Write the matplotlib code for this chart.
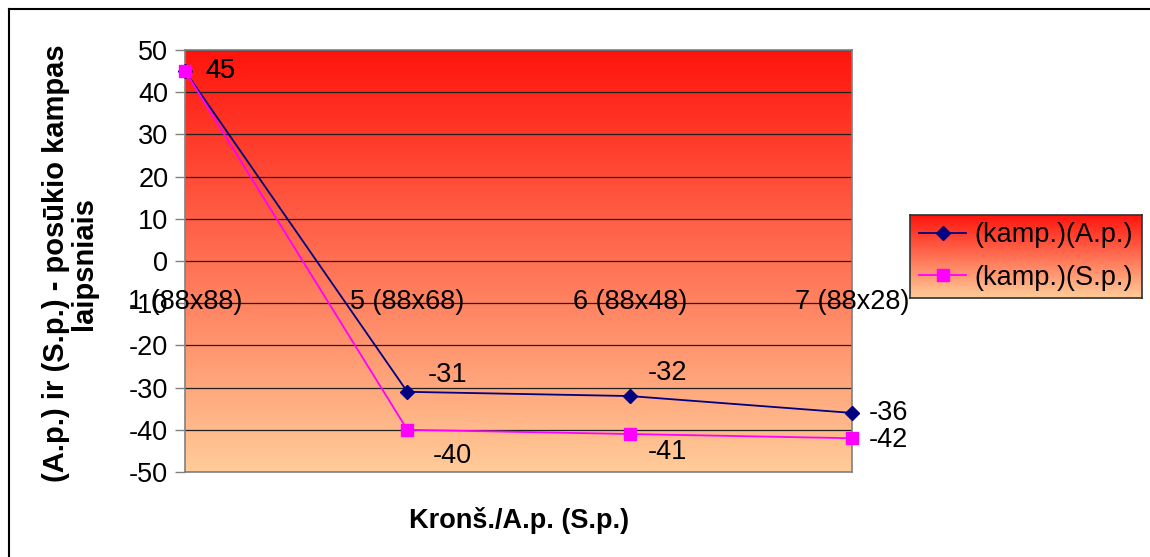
import numpy as np
import matplotlib
matplotlib.use("Agg")
import matplotlib.pyplot as plt
from matplotlib.colors import LinearSegmentedColormap
from matplotlib.lines import Line2D

plt.rcParams['font.family'] = ['Liberation Sans', 'DejaVu Sans']

categories = ["1 (88x88)", "5 (88x68)", "6 (88x48)", "7 (88x28)"]
series_ap = [45, -31, -32, -36]
series_sp = [45, -40, -41, -42]
series_names = ["(kamp.)(A.p.)", "(kamp.)(S.p.)"]
y_ticks = [50, 40, 30, 20, 10, 0, -10, -20, -30, -40, -50]

FS = 19.5
W, H = 1150, 557
fig = plt.figure(figsize=(W / 100, H / 100), dpi=100)

# outer chart border (top and left edges)
fig.add_artist(Line2D([9 / W, 1.0], [1 - 9 / H, 1 - 9 / H], transform=fig.transFigure,
                      color='black', linewidth=1.5))
fig.add_artist(Line2D([9 / W, 9 / W], [0.0, 1 - 9 / H], transform=fig.transFigure,
                      color='black', linewidth=1.5))

grad = LinearSegmentedColormap.from_list("warm", [(1.0, 0.80, 0.60), (1.0, 0.08, 0.05)])
gradient = np.linspace(0, 1, 256).reshape(-1, 1)

ax = fig.add_axes([185 / W, 1 - 472 / H, 667 / W, 422 / H])
ax.imshow(gradient, aspect='auto', cmap=grad, origin='lower',
          extent=(0, 3, -50, 50), zorder=0, interpolation='bicubic')
ax.set_xlim(0, 3)
ax.set_ylim(-50, 50)
ax.set_yticks(y_ticks)
ax.set_yticklabels([str(v) for v in y_ticks], fontsize=FS)
ax.set_xticks([])
for v in y_ticks:
    ax.axhline(v, color='#202020', linewidth=0.9, zorder=1)
for s in ax.spines.values():
    s.set_color('#808080')
    s.set_linewidth(1.2)
ax.tick_params(axis='y', length=7, width=1, color='#808080', pad=5)

x = np.arange(len(categories))
ax.plot(x, series_ap, color='#000080', linewidth=1.3, marker='D', markersize=7.5,
        markerfacecolor='#000080', markeredgecolor='#000080', zorder=4, clip_on=False)
ax.plot(x, series_sp, color='#FF00FF', linewidth=1.3, marker='s', markersize=8,
        markerfacecolor='#FF00FF', markeredgecolor='#FF00FF', zorder=5, clip_on=False)

# data labels (offsets in points from each marker)
ap_offsets = [(15, 0), (15, 12), (13, 16.5), (12, 0)]
sp_offsets = [(15, 0), (18, -19), (13, -13), (12, -1)]
for i, v in enumerate(series_ap):
    dx, dy = ap_offsets[i]
    ax.annotate(str(v), (i, v), xytext=(dx, dy), textcoords='offset points',
                ha='left', va='center', fontsize=FS, zorder=6, annotation_clip=False)
for i, v in enumerate(series_sp):
    dx, dy = sp_offsets[i]
    ax.annotate(str(v), (i, v), xytext=(dx, dy), textcoords='offset points',
                ha='left', va='center', fontsize=FS, zorder=6, annotation_clip=False)

# category labels sit below the zero line
for i, c in enumerate(categories):
    ax.annotate(c, (i, 0), xytext=(0, -29.5), textcoords='offset points',
                ha='center', va='center', fontsize=FS, zorder=6, annotation_clip=False)

fig.text(70 / W, 1 - 263 / H, "(A.p.) ir (S.p.) - posūkio kampas\nlaipsniais",
         rotation=90, ha='center', va='center', fontsize=21, fontweight='bold',
         multialignment='center', linespacing=1.02)
fig.text(519 / W, 1 - 521 / H, "Kronš./A.p. (S.p.)", ha='center', va='center',
         fontsize=FS, fontweight='bold')

# legend with the same warm gradient
lax = fig.add_axes([910 / W, 1 - 298 / H, 232 / W, 83 / H])
lax.imshow(gradient, aspect='auto', cmap=grad, origin='lower', extent=(0, 1, 0, 1),
           interpolation='bicubic')
lax.set_xlim(0, 1)
lax.set_ylim(0, 1)
lax.set_xticks([])
lax.set_yticks([])
for s in lax.spines.values():
    s.set_color('#303030')
    s.set_linewidth(1.2)
handles = [
    Line2D([], [], color='#000080', linewidth=1.3, marker='D', markersize=7.5),
    Line2D([], [], color='#FF00FF', linewidth=1.3, marker='s', markersize=8),
]
leg = lax.legend(handles, series_names, loc='center', frameon=False, fontsize=FS,
                 handlelength=1.75, handletextpad=0.3, labelspacing=0.6,
                 borderaxespad=0, borderpad=0)

fig.savefig("out.png", dpi=100)
